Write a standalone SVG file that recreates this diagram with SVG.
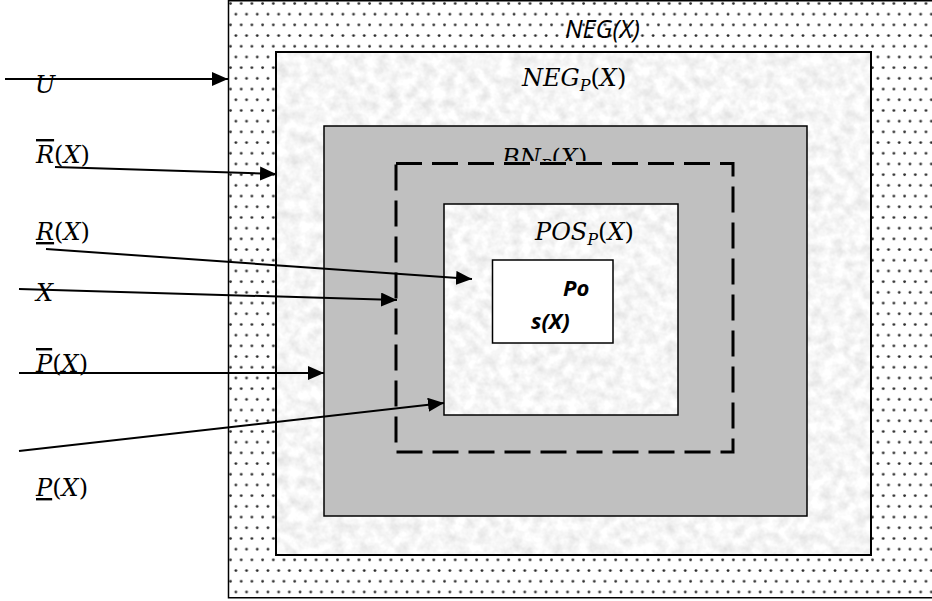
<svg xmlns="http://www.w3.org/2000/svg" width="932" height="601" viewBox="0 0 932 601">
<style>
.m{font-family:"DejaVu Serif","Liberation Serif",serif;font-style:italic;font-size:24px;fill:#000}
.u{font-style:normal}
.b{stroke:#000}
.c{stroke:#000;stroke-width:2;fill:none}
.s{font-family:"Open Sans","Liberation Sans",sans-serif;font-style:italic;fill:#000}
</style>
<defs>
<pattern id="dots" x="228" y="0" width="10.7" height="21.4" patternUnits="userSpaceOnUse">
<rect width="10.7" height="21.4" fill="#fff"/>
<circle cx="2.5" cy="3.5" r="1.4" fill="#2a2a2a"/>
<circle cx="7.85" cy="14.2" r="1.4" fill="#2a2a2a"/>
</pattern>
<filter id="granite" x="0" y="0" width="100%" height="100%">
<feTurbulence type="fractalNoise" baseFrequency="0.09" numOctaves="3" seed="7" result="n"/>
<feColorMatrix in="n" type="matrix" values="0.4 0 0 0 0.72  0.4 0 0 0 0.72  0.4 0 0 0 0.72  0 0 0 0 1" result="g"/>
<feComposite in="g" in2="SourceGraphic" operator="in"/>
</filter>
<clipPath id="bnclip"><rect x="480" y="130" width="140" height="31"/></clipPath>
<marker id="ah" markerUnits="userSpaceOnUse" markerWidth="17" markerHeight="14" refX="16" refY="7" orient="auto">
<path d="M0,0 L16,7 L0,14 z" fill="#000"/>
</marker>
</defs>

<g id="neg">
<rect x="228.5" y="0.75" width="710" height="597" fill="url(#dots)" class="b" stroke-width="1.5"/>
<text class="s" x="565" y="38" font-size="25">NEG(X)</text>
</g>

<g id="negp">
<rect x="276" y="52" width="595" height="503" fill="#eee" filter="url(#granite)"/>
<rect x="276" y="52" width="595" height="503" fill="none" class="b" stroke-width="2"/>
<text class="m" x="522" y="86">NEG<tspan font-size="16" dy="5">P</tspan><tspan class="u" dy="-5">(</tspan>X<tspan class="u">)</tspan></text>
</g>

<g id="bnp">
<rect x="324" y="126" width="483" height="390" fill="#c0c0c0" class="b" stroke-width="1.5"/>
<text class="m" x="502" y="166" clip-path="url(#bnclip)">BN<tspan font-size="16" dy="5">P</tspan><tspan class="u" dy="-5">(</tspan>X<tspan class="u">)</tspan></text>
</g>

<g id="boundary">
<rect x="396" y="163.5" width="337" height="288.5" fill="none" class="b" stroke-width="3" stroke-dasharray="26 10"/>
</g>

<g id="posp">
<rect x="444" y="204" width="234" height="211" fill="#eee" filter="url(#granite)"/>
<rect x="444" y="204" width="234" height="211" fill="none" class="b" stroke-width="1.5"/>
<text class="m" x="535" y="240">POS<tspan font-size="16" dy="5">P</tspan><tspan class="u" dy="-5">(</tspan>X<tspan class="u">)</tspan></text>
</g>

<g id="pos">
<rect x="492.5" y="260" width="120.5" height="83" fill="#fff" class="b" stroke-width="1.5"/>
<text class="s" x="563" y="296" font-size="22" font-weight="bold">Po</text>
<text class="s" x="531" y="329" font-size="22" font-weight="bold">s(X)</text>
</g>

<g id="connectors">
<line class="c" x1="5" y1="79" x2="228" y2="79" marker-end="url(#ah)"/>
<line class="c" x1="55" y1="167" x2="276" y2="174" marker-end="url(#ah)"/>
<line class="c" x1="46" y1="249" x2="472" y2="279" marker-end="url(#ah)"/>
<line class="c" x1="19" y1="289" x2="397" y2="300" marker-end="url(#ah)"/>
<line class="c" x1="19" y1="373" x2="324" y2="373" marker-end="url(#ah)"/>
<line class="c" x1="19" y1="451" x2="444" y2="403" marker-end="url(#ah)"/>
</g>

<g id="labels">
<text class="m" x="35" y="93">U</text>
<text class="m" x="36" y="163"><tspan text-decoration="overline">R</tspan><tspan class="u">(</tspan>X<tspan class="u">)</tspan></text>
<text class="m" x="36" y="240"><tspan text-decoration="underline">R</tspan><tspan class="u">(</tspan>X<tspan class="u">)</tspan></text>
<text class="m" x="36" y="301">X</text>
<text class="m" x="36" y="372"><tspan text-decoration="overline">P</tspan><tspan class="u">(</tspan>X<tspan class="u">)</tspan></text>
<text class="m" x="36" y="496"><tspan text-decoration="underline">P</tspan><tspan class="u">(</tspan>X<tspan class="u">)</tspan></text>
</g>
</svg>
